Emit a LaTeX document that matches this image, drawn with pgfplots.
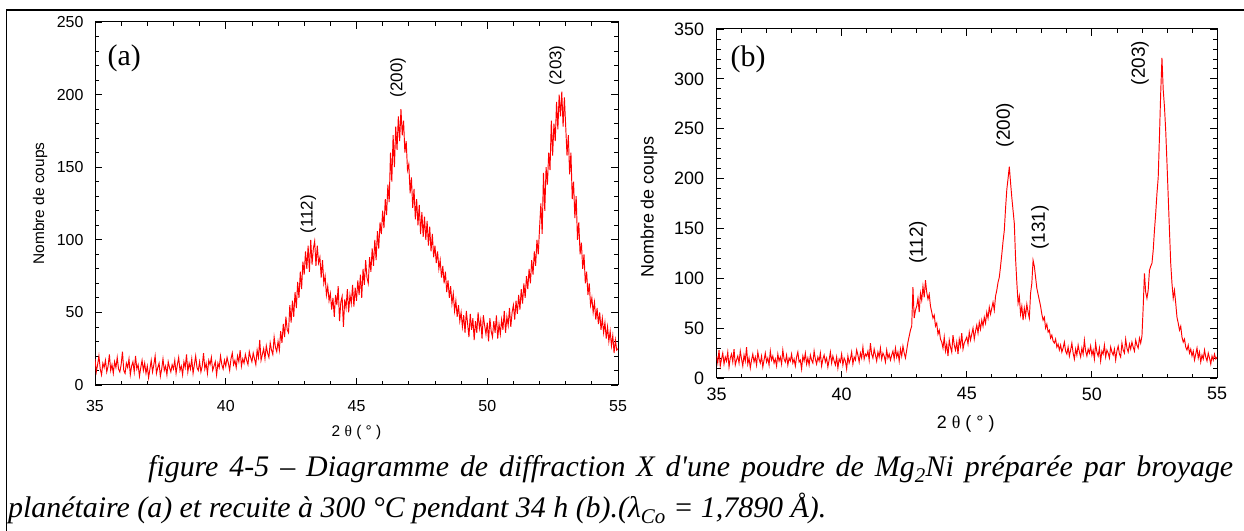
\documentclass[border=0pt]{standalone}
\usepackage{fontspec}
\setmainfont{Liberation Sans}
\newfontfamily\serif{Liberation Serif}
\usepackage{pgfplots}
\pgfplotsset{compat=1.18}

\pgfplotsset{
  xrd/.style={
    scale only axis,
    xmin=35, xmax=55,
    xtick={35,40,...,55},
    minor x tick num=4,
    minor y tick num=4,
    tick align=inside,
    major tick length=7bp,
    minor tick length=4bp,
    axis line style={line width=1bp},
    every tick/.style={black, line width=0.8bp},
    /pgf/number format/assume math mode=true,
    clip=true,
  },
  pattern/.style={red, line width=0.95bp, mark=none},
}

\begin{document}
\begin{tikzpicture}[x=1bp,y=1bp]
\path[use as bounding box] (0,0) rectangle (1244,531);
\draw[line width=1.3bp] (6.7,0) -- (6.7,521) -- (1244,521);

% ---------- (a) as-milled powder ----------
\begin{axis}[xrd,
  at={(95bp,146bp)}, anchor=south west,
  width=523bp, height=363bp,
  ymin=0, ymax=250, ytick={0,50,...,250},
  tick label style={font=\fontsize{16}{16}\selectfont},
  xticklabel style={yshift=-12bp},
  yticklabel style={xshift=-8bp},
  xlabel={2 {\serif θ} ( ° )},
  ylabel={Nombre de coups},
  label style={font=\fontsize{15.5}{15.5}\selectfont},
  xlabel style={at={(axis description cs:0.5,-0.131)}, anchor=center},
  ylabel style={at={(axis description cs:-0.105,0.5)}, anchor=center, rotate=0},
]
\addplot[pattern] coordinates {
(35,18)(35.05,9)(35.1,14)(35.15,20)(35.2,11)(35.25,7)(35.3,15)(35.35,12)(35.4,17)(35.45,9)(35.5,13)(35.55,21)(35.6,10)(35.65,14)(35.7,8)(35.75,16)(35.8,12)(35.85,19)(35.9,11)(35.95,9)
(36,14)(36.05,23)(36.1,10)(36.15,8)(36.2,15)(36.25,12)(36.3,18)(36.35,7)(36.4,13)(36.45,16)(36.5,9)(36.55,20)(36.6,11)(36.65,14)(36.7,6)(36.75,12)(36.8,17)(36.85,10)(36.9,15)(36.95,8)
(37,13)(37.05,5)(37.1,11)(37.15,17)(37.2,9)(37.25,14)(37.3,20)(37.35,8)(37.4,12)(37.45,15)(37.5,6)(37.55,11)(37.6,18)(37.65,10)(37.7,13)(37.75,7)(37.8,16)(37.85,12)(37.9,9)(37.95,14)
(38,11)(38.05,17)(38.1,8)(38.15,14)(38.2,19)(38.25,10)(38.3,13)(38.35,7)(38.4,16)(38.45,12)(38.5,21)(38.55,9)(38.6,15)(38.65,11)(38.7,18)(38.75,8)(38.8,14)(38.85,20)(38.9,12)(38.95,10)
(39,16)(39.05,9)(39.1,13)(39.15,22)(39.2,11)(39.25,15)(39.3,8)(39.35,17)(39.4,14)(39.45,19)(39.5,10)(39.55,13)(39.6,16)(39.65,7)(39.7,15)(39.75,12)(39.8,20)(39.85,14)(39.9,11)(39.95,17)
(40,13)(40.05,19)(40.1,15)(40.15,10)(40.2,18)(40.25,22)(40.3,14)(40.35,17)(40.4,12)(40.45,20)(40.5,16)(40.55,24)(40.6,13)(40.65,18)(40.7,15)(40.75,21)(40.8,17)(40.85,14)(40.9,23)(40.95,19)
(41,16)(41.05,22)(41.1,18)(41.15,14)(41.2,24)(41.25,19)(41.3,31)(41.35,17)(41.4,21)(41.45,25)(41.5,18)(41.55,27)(41.6,22)(41.65,19)(41.7,29)(41.75,24)(41.8,21)(41.85,33)(41.9,26)(41.95,23)
(42,30)(42.05,24)(42.1,37)(42.15,29)(42.2,42)(42.25,33)(42.3,47)(42.35,38)(42.4,36)(42.45,55)(42.5,43)(42.55,58)(42.6,47)(42.65,64)(42.7,53)(42.75,71)(42.8,60)(42.85,78)(42.9,66)(42.95,85)
(43,76)(43.05,92)(43.1,80)(43.15,96)(43.2,78)(43.25,100)(43.3,83)(43.35,94)(43.4,99)(43.45,82)(43.5,96)(43.55,84)(43.6,88)(43.65,74)(43.7,86)(43.75,70)(43.8,75)(43.85,62)(43.9,68)(43.95,58)
(44,63)(44.05,52)(44.1,60)(44.15,47)(44.2,62)(44.25,55)(44.3,68)(44.35,44)(44.4,57)(44.45,61)(44.5,40)(44.55,59)(44.6,53)(44.65,66)(44.7,50)(44.75,62)(44.8,56)(44.85,69)(44.9,54)(44.95,67)
(45,58)(45.05,72)(45.1,62)(45.15,76)(45.2,60)(45.25,80)(45.3,69)(45.35,86)(45.4,74)(45.45,70)(45.5,88)(45.55,78)(45.6,94)(45.65,82)(45.7,100)(45.75,86)(45.8,106)(45.85,94)(45.9,112)(45.95,104)
(46,120)(46.05,108)(46.1,128)(46.15,117)(46.2,138)(46.25,126)(46.3,160)(46.35,140)(46.4,172)(46.45,150)(46.5,178)(46.55,162)(46.6,185)(46.65,168)(46.7,190)(46.75,172)(46.8,182)(46.85,160)(46.9,168)(46.95,148)
(47,152)(47.05,132)(47.1,143)(47.15,122)(47.2,135)(47.25,114)(47.3,128)(47.35,110)(47.4,124)(47.45,104)(47.5,119)(47.55,102)(47.6,116)(47.65,100)(47.7,113)(47.75,96)(47.8,109)(47.85,92)(47.9,104)(47.95,88)
(48,96)(48.05,84)(48.1,92)(48.15,80)(48.2,86)(48.25,74)(48.3,82)(48.35,70)(48.4,78)(48.45,64)(48.5,72)(48.55,60)(48.6,68)(48.65,56)(48.7,63)(48.75,51)(48.8,58)(48.85,47)(48.9,55)(48.95,44)
(49,50)(49.05,40)(49.1,48)(49.15,36)(49.2,51)(49.25,42)(49.3,33)(49.35,49)(49.4,38)(49.45,46)(49.5,31)(49.55,44)(49.6,36)(49.65,50)(49.7,39)(49.75,45)(49.8,32)(49.85,48)(49.9,41)(49.95,35)
(50,43)(50.05,30)(50.1,46)(50.15,37)(50.2,33)(50.25,44)(50.3,36)(50.35,48)(50.4,32)(50.45,42)(50.5,35)(50.55,45)(50.6,38)(50.65,51)(50.7,36)(50.75,47)(50.8,41)(50.85,53)(50.9,40)(50.95,50)
(51,55)(51.05,45)(51.1,58)(51.15,49)(51.2,62)(51.25,52)(51.3,66)(51.35,56)(51.4,70)(51.45,60)(51.5,75)(51.55,66)(51.6,80)(51.65,70)(51.7,86)(51.75,76)(51.8,92)(51.85,82)(51.9,100)(51.95,90)
(52,108)(52.05,125)(52.1,104)(52.15,146)(52.2,120)(52.25,150)(52.3,138)(52.35,160)(52.4,148)(52.45,182)(52.5,158)(52.55,180)(52.6,168)(52.65,195)(52.7,176)(52.75,200)(52.8,185)(52.85,202)(52.9,178)(52.95,198)
(53,178)(53.05,158)(53.1,172)(53.15,145)(53.2,160)(53.25,128)(53.3,140)(53.35,115)(53.4,130)(53.45,100)(53.5,112)(53.55,90)(53.6,98)(53.65,80)(53.7,90)(53.75,70)(53.8,78)(53.85,62)(53.9,70)(53.95,55)
(54,60)(54.05,50)(54.1,57)(54.15,45)(54.2,53)(54.25,42)(54.3,50)(54.35,38)(54.4,46)(54.45,36)(54.5,43)(54.55,32)(54.6,40)(54.65,30)(54.7,37)(54.75,27)(54.8,34)(54.85,22)(54.9,31)(54.95,24)
(55,25)
};
\node[font=\serif\fontsize{30}{30}\selectfont] at (rel axis cs:0.056,0.9) {(a)};
\begin{scope}[every node/.style={rotate=90, font=\fontsize{17}{17}\selectfont}]
\node at (axis cs:43.15,117.7) {(112)};
\node at (axis cs:46.59,211.9) {(200)};
\node at (axis cs:52.67,220.2) {(203)};
\end{scope}
\end{axis}

% ---------- (b) annealed powder ----------
\begin{axis}[xrd,
  at={(716.5bp,153bp)}, anchor=south west,
  width=500.5bp, height=349bp,
  ymin=0, ymax=350, ytick={0,50,...,350},
  tick label style={font=\fontsize{18}{18}\selectfont},
  xticklabel style={yshift=-6bp},
  yticklabel style={xshift=-9bp},
  xlabel={2 {\serif θ} ( ° )},
  ylabel={Nombre de coups},
  label style={font=\fontsize{18}{18}\selectfont},
  xlabel style={at={(axis description cs:0.498,-0.131)}, anchor=center},
  ylabel style={at={(axis description cs:-0.135,0.49)}, anchor=center, rotate=0},
]
\addplot[pattern] coordinates {
(35,22)(35.05,15)(35.1,28)(35.15,12)(35.2,19)(35.25,25)(35.3,14)(35.35,21)(35.4,17)(35.45,26)(35.5,11)(35.55,20)(35.6,24)(35.65,16)(35.7,29)(35.75,13)(35.8,18)(35.85,22)(35.9,15)(35.95,27)
(36,19)(36.05,12)(36.1,23)(36.15,17)(36.2,31)(36.25,14)(36.3,20)(36.35,10)(36.4,18)(36.45,24)(36.5,16)(36.55,21)(36.6,13)(36.65,26)(36.7,19)(36.75,15)(36.8,22)(36.85,11)(36.9,18)(36.95,25)
(37,16)(37.05,20)(37.1,13)(37.15,27)(37.2,18)(37.25,22)(37.3,15)(37.35,19)(37.4,12)(37.45,24)(37.5,17)(37.55,21)(37.6,14)(37.65,28)(37.7,19)(37.75,16)(37.8,23)(37.85,13)(37.9,20)(37.95,17)
(38,24)(38.05,15)(38.1,19)(38.15,12)(38.2,21)(38.25,26)(38.3,16)(38.35,18)(38.4,9)(38.45,22)(38.5,17)(38.55,25)(38.6,14)(38.65,20)(38.7,13)(38.75,23)(38.8,18)(38.85,15)(38.9,27)(38.95,19)
(39,14)(39.05,21)(39.1,17)(39.15,25)(39.2,12)(39.25,19)(39.3,23)(39.35,16)(39.4,20)(39.45,11)(39.5,18)(39.55,26)(39.6,15)(39.65,22)(39.7,17)(39.75,13)(39.8,21)(39.85,10)(39.9,19)(39.95,16)
(40,24)(40.05,13)(40.1,20)(40.15,17)(40.2,9)(40.25,22)(40.3,15)(40.35,19)(40.4,26)(40.45,14)(40.5,21)(40.55,18)(40.6,28)(40.65,23)(40.7,16)(40.75,25)(40.8,20)(40.85,31)(40.9,19)(40.95,24)
(41,22)(41.05,27)(41.1,18)(41.15,35)(41.2,24)(41.25,20)(41.3,29)(41.35,23)(41.4,17)(41.45,26)(41.5,21)(41.55,30)(41.6,19)(41.65,25)(41.7,22)(41.75,16)(41.8,28)(41.85,20)(41.9,24)(41.95,18)
(42,23)(42.05,27)(42.1,19)(42.15,30)(42.2,21)(42.25,26)(42.3,17)(42.35,29)(42.4,22)(42.45,32)(42.5,25)(42.55,20)(42.6,28)(42.65,36)(42.7,42)(42.75,48)(42.8,52)(42.85,91)(42.9,60)(42.95,68)
(43,72)(43.05,80)(43.1,66)(43.15,85)(43.2,78)(43.25,92)(43.3,81)(43.35,98)(43.4,86)(43.45,79)(43.5,84)(43.55,72)(43.6,66)(43.65,60)(43.7,63)(43.75,52)(43.8,55)(43.85,44)(43.9,48)(43.95,39)
(44,36)(44.05,30)(44.1,41)(44.15,27)(44.2,34)(44.25,22)(44.3,38)(44.35,31)(44.4,26)(44.45,43)(44.5,33)(44.55,28)(44.6,36)(44.65,24)(44.7,39)(44.75,32)(44.8,45)(44.85,29)(44.9,35)(44.95,38)
(45,41)(45.05,34)(45.1,46)(45.15,38)(45.2,44)(45.25,50)(45.3,39)(45.35,47)(45.4,53)(45.45,45)(45.5,56)(45.55,49)(45.6,58)(45.65,52)(45.7,61)(45.75,55)(45.8,66)(45.85,60)(45.9,71)(45.95,64)
(46,70)(46.05,76)(46.1,68)(46.15,82)(46.2,88)(46.25,96)(46.3,101)(46.35,112)(46.4,124)(46.45,137)(46.5,148)(46.55,170)(46.6,189)(46.65,200)(46.7,212)(46.75,196)(46.8,181)(46.85,168)(46.9,155)(46.95,120)
(47,96)(47.05,75)(47.1,82)(47.15,64)(47.2,72)(47.25,58)(47.3,70)(47.35,62)(47.4,74)(47.45,66)(47.5,60)(47.55,85)(47.6,95)(47.65,118)(47.7,112)(47.75,101)(47.8,90)(47.85,84)(47.9,78)(47.95,72)
(48,64)(48.05,58)(48.1,61)(48.15,50)(48.2,54)(48.25,46)(48.3,48)(48.35,40)(48.4,43)(48.45,37)(48.5,35)(48.55,39)(48.6,31)(48.65,34)(48.7,28)(48.75,33)(48.8,26)(48.85,30)(48.9,36)(48.95,27)
(49,24)(49.05,31)(49.1,22)(49.15,28)(49.2,35)(49.25,25)(49.3,19)(49.35,29)(49.4,23)(49.45,33)(49.5,26)(49.55,21)(49.6,30)(49.65,24)(49.7,38)(49.75,27)(49.8,22)(49.85,29)(49.9,25)(49.95,32)
(50,23)(50.05,28)(50.1,19)(50.15,35)(50.2,26)(50.25,22)(50.3,30)(50.35,17)(50.4,27)(50.45,24)(50.5,33)(50.55,21)(50.6,28)(50.65,25)(50.7,20)(50.75,31)(50.8,26)(50.85,23)(50.9,29)(50.95,18)
(51,27)(51.05,32)(51.1,24)(51.15,21)(51.2,35)(51.25,28)(51.3,25)(51.35,39)(51.4,30)(51.45,26)(51.5,34)(51.55,29)(51.6,36)(51.65,31)(51.7,27)(51.75,38)(51.8,33)(51.85,30)(51.9,40)(51.95,35)
(52,42)(52.05,71)(52.1,105)(52.15,86)(52.2,80)(52.25,88)(52.3,108)(52.35,112)(52.4,115)(52.45,128)(52.5,148)(52.55,165)(52.6,185)(52.65,201)(52.7,242)(52.75,286)(52.8,321)(52.85,289)(52.9,272)(52.95,248)
(53,216)(53.05,182)(53.1,148)(53.15,115)(53.2,95)(53.25,80)(53.3,88)(53.35,75)(53.4,61)(53.45,55)(53.5,48)(53.55,52)(53.6,41)(53.65,36)(53.7,39)(53.75,31)(53.8,28)(53.85,33)(53.9,25)(53.95,29)
(54,22)(54.05,27)(54.1,18)(54.15,24)(54.2,30)(54.25,20)(54.3,26)(54.35,16)(54.4,23)(54.45,19)(54.5,28)(54.55,21)(54.6,17)(54.65,25)(54.7,20)(54.75,14)(54.8,22)(54.85,18)(54.9,24)(54.95,19)
(55,21)
};
\node[font=\serif\fontsize{30}{30}\selectfont] at (rel axis cs:0.063,0.914) {(b)};
\begin{scope}[every node/.style={rotate=90, font=\fontsize{19}{19}\selectfont}]
\node at (axis cs:43.05,135.9) {(112)};
\node at (axis cs:46.53,253.7) {(200)};
\node at (axis cs:47.93,150.9) {(131)};
\node at (axis cs:51.92,315.9) {(203)};
\end{scope}
\end{axis}

% caption
\node[anchor=base west, inner sep=0, font=\serif\itshape\fontsize{30}{30}\selectfont]
  at (148,54) {\makebox[1085bp][s]{figure 4-5 – Diagramme de diffraction X d'une poudre de Mg\textsubscript{2}Ni préparée par broyage}};
\node[anchor=base west, inner sep=0, font=\serif\itshape\fontsize{30}{30}\selectfont]
  at (8,13) {planétaire (a) et recuite à 300 °C pendant 34 h (b).(λ\textsubscript{Co} = 1,7890 Å).};
\end{tikzpicture}
\end{document}
